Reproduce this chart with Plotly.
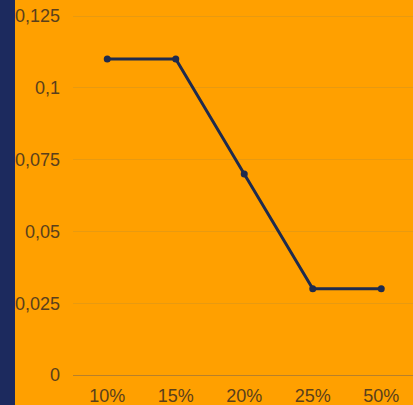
import plotly.graph_objects as go

categories = ["10%", "15%", "20%", "25%", "50%"]
values = [0.11, 0.11, 0.07, 0.03, 0.03]
y_tickvals = [0, 0.025, 0.05, 0.075, 0.1, 0.125]
y_ticktext = ["0", "0,025", "0,05", "0,075", "0,1", "0,125"]

W, H = 413, 405
ml, mb = 73, 30
pw = W - ml

fig = go.Figure()
fig.add_trace(go.Scatter(
    x=list(range(len(categories))), y=values, mode="lines+markers",
    line=dict(color="#1f2b4d", width=3),
    marker=dict(color="#1f2b4d", size=7),
    hoverinfo="skip", showlegend=False,
))

fig.add_shape(type="rect", xref="paper", yref="paper",
              x0=-ml / pw, x1=-(ml - 15) / pw, y0=-(mb + 2) / (H - mb), y1=1.01,
              fillcolor="#1c2a5e", line=dict(width=0), layer="above")

fig.update_layout(
    width=W, height=H,
    margin=dict(l=ml, r=0, t=0, b=mb),
    paper_bgcolor="#ffa000", plot_bgcolor="#ffa000",
    font=dict(family="Liberation Sans, Arial, sans-serif", size=18, color="#5a3f1c"),
    xaxis=dict(
        tickmode="array", tickvals=list(range(len(categories))), ticktext=categories,
        range=[-0.5, -0.5 + pw / 68.5], showgrid=False, zeroline=False,
        showline=False, ticks="", ticklabelstandoff=8, fixedrange=True,
        automargin=False,
    ),
    yaxis=dict(
        tickmode="array", tickvals=y_tickvals, ticktext=y_ticktext,
        range=[0, 375 / 2872], showgrid=True, gridcolor="#e89a10", gridwidth=1,
        zeroline=True, zerolinecolor="#b8802a", zerolinewidth=1,
        showline=False, ticks="", ticklabelstandoff=12, fixedrange=True,
        automargin=False,
    ),
)

fig.write_html("out.html")
